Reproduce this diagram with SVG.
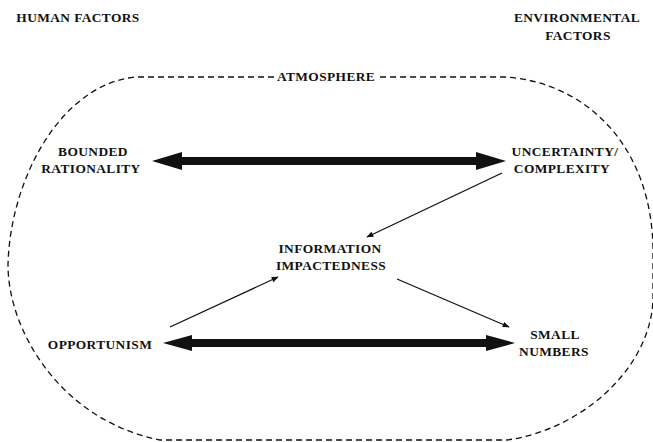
<svg xmlns="http://www.w3.org/2000/svg" width="653" height="442" viewBox="0 0 653 442">
<style>
text{font-family:"Liberation Serif","Times New Roman",serif;font-size:13.4px;font-weight:bold;fill:#111;text-anchor:middle;letter-spacing:0.4px}
.dash{fill:none;stroke:#111;stroke-width:1.3;stroke-dasharray:6 4}
.thin{stroke:#111;stroke-width:1.3;fill:none}
.thick{stroke:#111;stroke-width:8;fill:none}
</style>
<defs>
<marker id="ah" viewBox="0 0 10 10" refX="9" refY="5" markerWidth="9" markerHeight="7" markerUnits="userSpaceOnUse" orient="auto">
<path d="M0,1 L10,5 L0,9 Z" fill="#111"/>
</marker>
</defs>
<rect width="653" height="442" fill="#fff"/>
<g id="labels">
<text x="78" y="22">HUMAN FACTORS</text>
<text x="577" y="22">ENVIRONMENTAL</text>
<text x="578" y="40">FACTORS</text>
</g>
<g id="atmosphere">
<path class="dash" d="M274,77 L135,77 C60,85 10,180 8,265 C8,330 60,420 160,440 L507,440 C580,430 650,370 653,300 L653,250 C652,145 585,82 505,77 L378,77"/>
<text x="326" y="81">ATMOSPHERE</text>
</g>
<g id="bounded">
<text x="93" y="156">BOUNDED</text>
<text x="91" y="173">RATIONALITY</text>
</g>
<g id="uncertainty">
<text x="565" y="156">UNCERTAINTY/</text>
<text x="562" y="173">COMPLEXITY</text>
</g>
<g id="information">
<text x="330" y="253">INFORMATION</text>
<text x="331" y="270">IMPACTEDNESS</text>
</g>
<g id="opportunism">
<text x="100" y="349">OPPORTUNISM</text>
</g>
<g id="smallnumbers">
<text x="555" y="339">SMALL</text>
<text x="554" y="356">NUMBERS</text>
</g>
<g id="connectors">
<line class="thick" x1="178" y1="161" x2="480" y2="161"/>
<path d="M152,161 L182,152 L182,170 Z" fill="#111"/>
<path d="M506,161 L476,152 L476,170 Z" fill="#111"/>
<line class="thick" x1="188" y1="343" x2="490" y2="343"/>
<path d="M163,343 L192,335 L192,351 Z" fill="#111"/>
<path d="M515,343 L486,335 L486,351 Z" fill="#111"/>
<line class="thin" x1="502" y1="173" x2="367" y2="237" marker-end="url(#ah)"/>
<line class="thin" x1="170" y1="327" x2="278" y2="277" marker-end="url(#ah)"/>
<line class="thin" x1="397" y1="279" x2="509" y2="327" marker-end="url(#ah)"/>
</g>
</svg>
